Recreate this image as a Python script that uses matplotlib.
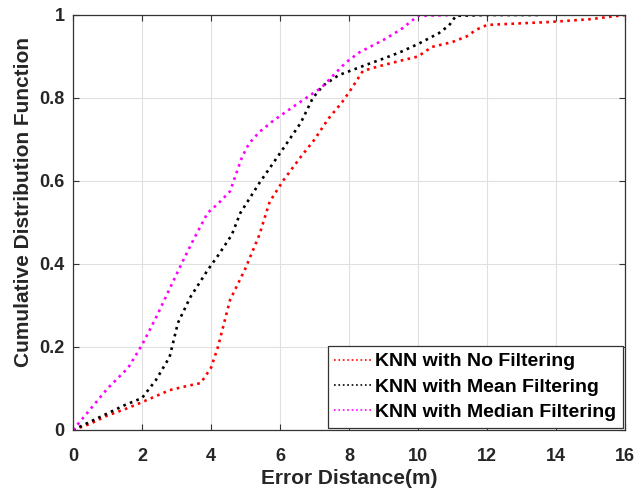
"""
CDF of positioning error for KNN with different filters
"""
import matplotlib
matplotlib.use('Agg')
import matplotlib.pyplot as plt

# KNN with No Filtering
x_none = [0, 0.5, 1.0, 1.5, 2.0, 2.8, 3.3, 3.7, 4.0, 4.2, 4.55, 5.0, 5.4, 5.7, 6.1,
          6.6, 7.0, 7.4, 7.8, 8.05, 8.4, 8.8, 9.5, 10.0, 10.4, 11.0, 11.4, 11.7,
          12.0, 13.0, 13.8, 15.0, 16.0]
y_none = [0, 0.015, 0.035, 0.05, 0.067, 0.096, 0.106, 0.113, 0.15, 0.2, 0.313, 0.39,
          0.47, 0.55, 0.602, 0.658, 0.7, 0.75, 0.79, 0.82, 0.865, 0.875, 0.89, 0.9,
          0.923, 0.935, 0.948, 0.965, 0.976, 0.98, 0.983, 0.99, 1.0]

# KNN with Mean Filtering
x_mean = [0, 0.5, 1.0, 1.5, 2.0, 2.4, 2.8, 3.04, 3.4, 3.9, 4.2, 4.6, 4.85, 5.4,
          6.0, 6.6, 6.95, 7.25, 7.7, 8.5, 9.0, 9.5, 10.0, 10.6, 10.9, 11.1,
          12.0, 13.6]
y_mean = [0, 0.02, 0.04, 0.06, 0.077, 0.12, 0.176, 0.258, 0.32, 0.385, 0.42, 0.47,
          0.523, 0.595, 0.667, 0.74, 0.8, 0.83, 0.855, 0.88, 0.895, 0.911, 0.93,
          0.956, 0.975, 0.998, 1.0, 1.0]

# KNN with Median Filtering
x_median = [0, 0.5, 1.0, 1.3, 1.6, 2.0, 2.4, 2.8, 3.2, 3.5, 3.9, 4.2, 4.55, 4.9,
            5.1, 5.4, 5.8, 6.4, 7.2, 7.9, 8.3, 9.0, 9.5, 10.0, 11.0]
y_median = [0, 0.05, 0.1, 0.125, 0.15, 0.205, 0.27, 0.34, 0.41, 0.46, 0.523, 0.545,
            0.575, 0.658, 0.69, 0.718, 0.745, 0.78, 0.825, 0.885, 0.91, 0.94, 0.965,
            0.998, 1.0]

labels = ['KNN with No Filtering', 'KNN with Mean Filtering', 'KNN with Median Filtering']
colors = ['#ff0000', '#000000', '#ff00ff']

plt.rcParams['font.family'] = ['Liberation Sans', 'DejaVu Sans']
plt.rcParams['font.weight'] = 'bold'

fig = plt.figure(figsize=(6.36, 4.93), dpi=100)
ax = fig.add_axes([0.1148, 0.1278, 0.868, 0.8418])

for xs, ys, c, lab in zip([x_none, x_mean, x_median],
                          [y_none, y_mean, y_median], colors, labels):
    ax.plot(xs, ys, linestyle=':', color=c, linewidth=1.9, label=lab)

ax.set_xlim(0, 16)
ax.set_ylim(0, 1)
ax.set_xticks(range(0, 17, 2))
ax.set_yticks([0, 0.2, 0.4, 0.6, 0.8, 1])
ax.set_yticklabels(['0', '0.2', '0.4', '0.6', '0.8', '1'])
ax.grid(True, color='#e0e0e0', linewidth=0.8)
ax.set_axisbelow(True)
ax.tick_params(direction='in', length=4, labelsize=13, color='#333333',
               labelcolor='#262626', top=True, right=True)
ax.tick_params(axis='x', pad=13)
ax.tick_params(axis='y', pad=6)
for s in ax.spines.values():
    s.set_color('#333333')
    s.set_linewidth(0.9)

ax.set_xlabel('Error Distance(m)', fontsize=15, fontweight='bold', color='#262626')
ax.set_ylabel('Cumulative Distribution Function', fontsize=15, fontweight='bold',
              color='#262626')
ax.xaxis.set_label_coords(0.5, -0.095)
ax.yaxis.set_label_coords(-0.072, 0.55)

leg = ax.legend(loc='lower right', fontsize=14, handlelength=1.9, handletextpad=0.2,
                borderpad=0.35, labelspacing=0.4, fancybox=False, framealpha=1,
                edgecolor='#333333', borderaxespad=0.1)
leg.get_frame().set_linewidth(0.9)
for h in leg.get_lines():
    h.set_linewidth(1.2)

fig.savefig('out.png', dpi=100)
plt.close(fig)
